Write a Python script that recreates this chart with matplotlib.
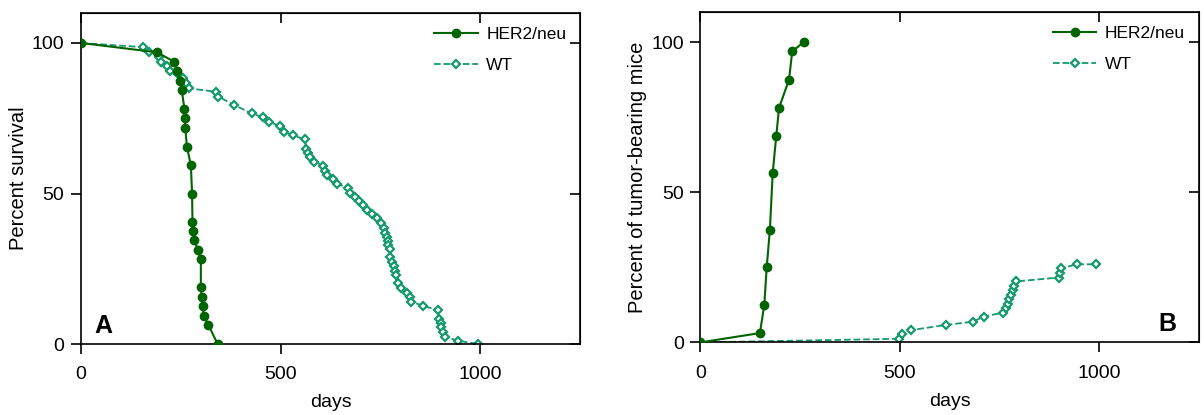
import matplotlib
matplotlib.use("Agg")
import matplotlib.pyplot as plt

# Panel A: survival
her2_surv_days = [0, 190, 233, 240, 248, 252, 259, 260, 261, 265, 275, 278, 279,
                  281, 284, 292, 300, 300, 302, 305, 307, 319, 342]
her2_surv_pct = [100, 96.9, 93.8, 90.6, 87.5, 84.4, 78.1, 75.0, 71.9, 65.6, 59.4,
                 50.0, 40.6, 37.5, 34.4, 31.3, 28.1, 18.8, 15.6, 12.5, 9.4, 6.3, 0]

wt_surv_days = [0, 156, 170, 195, 200, 216, 223, 244, 256, 263, 271, 338, 344, 383,
                428, 455, 470, 499, 507, 530, 561, 563, 568, 572, 582, 606, 610,
                616, 632, 641, 668, 674, 685, 695, 705, 715, 728, 740, 750, 758,
                762, 766, 768, 768, 774, 773, 778, 783, 787, 789, 793, 801, 816,
                823, 826, 856, 893, 897, 900, 902, 906, 911, 944, 993]
wt_surv_pct = [100, 98.6, 96.9, 95.5, 93.8, 92.5, 90.8, 89.6, 88.3, 86.6, 84.9,
               83.8, 82.2, 79.4, 76.6, 75.3, 73.8, 72.4, 70.5, 69.3, 68.0, 64.8,
               63.5, 62.0, 60.6, 59.3, 57.6, 56.1, 54.8, 53.2, 51.9, 50.3, 48.9,
               47.5, 46.1, 44.6, 43.2, 41.8, 40.3, 38.4, 37.0, 35.6, 34.3, 32.9,
               31.5, 28.8, 27.3, 25.9, 24.3, 22.9, 20.2, 18.5, 17.1, 15.5, 14.1,
               12.7, 11.3, 8.3, 6.9, 5.5, 3.9, 2.4, 1.1, 0]

# Panel B: tumor incidence
her2_tumor_days = [0, 149, 160, 166, 174, 181, 190, 197, 222, 230, 259]
her2_tumor_pct = [0, 3.1, 12.5, 25.0, 37.5, 56.3, 68.8, 78.1, 87.5, 96.9, 100]

wt_tumor_days = [0, 497, 506, 529, 615, 684, 710, 759, 766, 770, 774, 778, 783,
                 787, 791, 899, 901, 903, 943, 991]
wt_tumor_pct = [0, 1.2, 2.8, 4.1, 5.8, 6.9, 8.6, 9.9, 11.3, 12.8, 14.3, 15.8,
                17.4, 18.8, 20.3, 21.6, 23.2, 24.6, 26.0, 26.0]

HER2_COLOR = "#006400"
WT_COLOR = "#16996b"

plt.rcParams["font.family"] = ["Liberation Sans", "DejaVu Sans"]
plt.rcParams["font.size"] = 12


def draw_panel(ax, her_x, her_y, wt_x, wt_y, ylabel, letter, letter_x):
    ax.plot(wt_x, wt_y, linestyle="--", color=WT_COLOR, lw=1.3, marker="D",
            markersize=4.5, markerfacecolor="white", markeredgecolor=WT_COLOR,
            markeredgewidth=1.6, label="WT", zorder=2)
    ax.plot(her_x, her_y, linestyle="-", color=HER2_COLOR, lw=1.5, marker="o",
            markersize=6, markerfacecolor=HER2_COLOR, markeredgecolor=HER2_COLOR,
            label="HER2/neu", zorder=3)
    ax.set_xlim(0, 1250)
    ax.set_ylim(0, 110)
    ax.set_xticks([0, 500, 1000])
    ax.set_yticks([0, 50, 100])
    ax.tick_params(axis="x", direction="out", length=7, width=1.2,
                   labelsize=14, pad=9)
    ax.tick_params(axis="y", direction="out", length=7, width=1.2,
                   labelsize=14, pad=5)
    for s in ax.spines.values():
        s.set_linewidth(1.2)
    ax.set_xlabel("days", fontsize=14, labelpad=8)
    ax.set_ylabel(ylabel, fontsize=14.5, labelpad=3)

    top = ax.secondary_xaxis("top")
    top.set_xticks([0, 500, 1000])
    top.tick_params(direction="in", length=7, width=1.2, labeltop=False)
    right = ax.secondary_yaxis("right")
    right.set_yticks([0, 50, 100])
    right.tick_params(direction="in", length=7, width=1.2, labelright=False)

    handles, labels = ax.get_legend_handles_labels()
    ax.legend(handles[::-1], labels[::-1], loc="upper right", frameon=False,
              fontsize=12.5, handlelength=2.5, handletextpad=0.5,
              bbox_to_anchor=(1.0, 1.0), labelspacing=0.9, borderaxespad=0.4)
    ax.text(letter_x, 0.055, letter, transform=ax.transAxes, fontsize=18,
            fontweight="bold", ha="center", va="center")


fig = plt.figure(figsize=(12.04, 4.15), dpi=100)
ax_a = fig.add_axes([0.0673, 0.171, 0.4147, 0.798])
ax_b = fig.add_axes([0.5818, 0.175, 0.4141, 0.796])

draw_panel(ax_a, her2_surv_days, her2_surv_pct, wt_surv_days, wt_surv_pct,
           "Percent survival", "A", 0.045)
draw_panel(ax_b, her2_tumor_days, her2_tumor_pct, wt_tumor_days, wt_tumor_pct,
           "Percent of tumor-bearing mice", "B", 0.937)

fig.savefig("out.png", dpi=100)
